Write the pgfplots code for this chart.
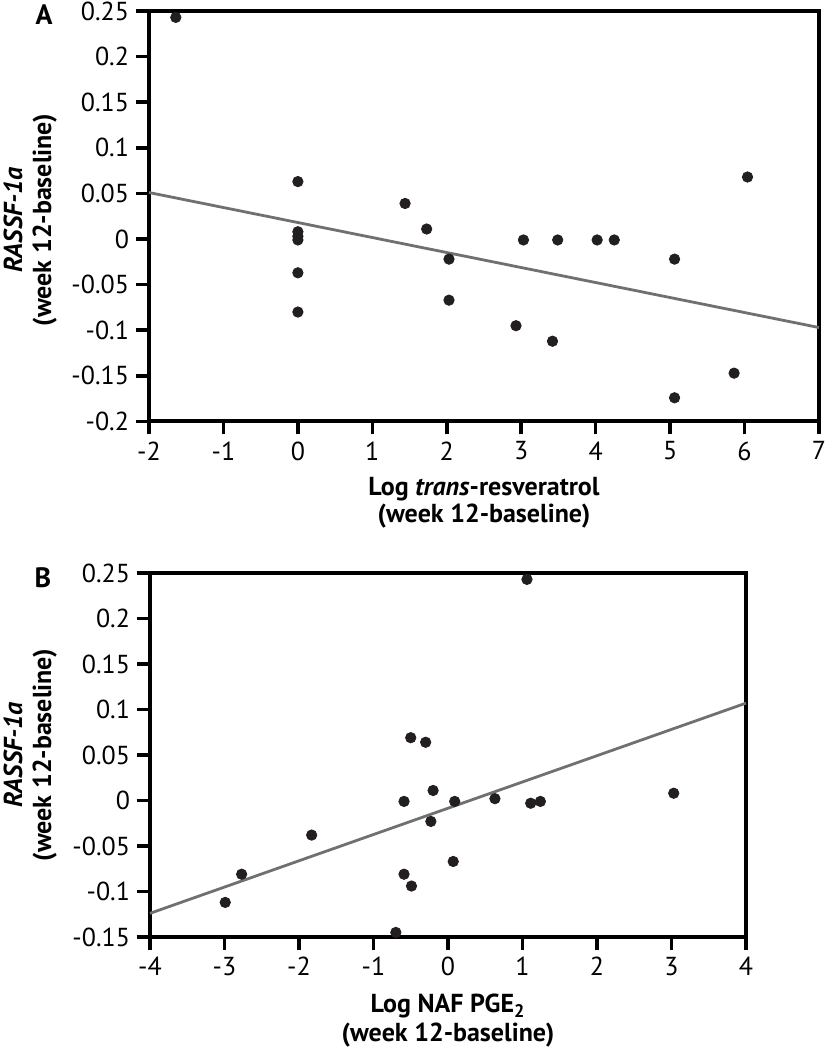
\documentclass[border=0pt]{standalone}
\usepackage{fontspec}
\setmainfont{PT Sans}
\usepackage{pgfplots}
\usepackage{pgfplotstable}
\pgfplotsset{compat=1.18}

\definecolor{dot}{RGB}{35,31,32}
\definecolor{reg}{RGB}{112,112,112}

\pgfplotstableread{
x y
-1.64 0.243
0.00 0.063
0.00 0.008
0.00 0.003
0.00 -0.001
0.00 -0.037
0.00 -0.080
1.44 0.039
1.73 0.011
2.03 -0.022
2.03 -0.067
2.93 -0.095
3.03 -0.001
3.42 -0.112
3.49 -0.001
4.02 -0.001
4.25 -0.001
5.06 -0.022
5.06 -0.174
5.86 -0.147
6.04 0.068
}\dataA

\pgfplotstableread{
x y
1.06 0.243
-0.50 0.069
-0.30 0.064
-0.20 0.011
-0.59 -0.001
0.09 -0.001
0.63 0.002
1.11 -0.003
1.24 -0.001
3.03 0.008
-0.23 -0.023
-1.83 -0.038
0.07 -0.067
-2.77 -0.081
-0.59 -0.081
-0.49 -0.094
-2.99 -0.112
-0.70 -0.145
}\dataB

\pgfplotsset{
  myax/.style={
    scale only axis, clip=false,
    axis line style={line width=2pt, black},
    tick style={line width=1.8pt, black},
    major tick length=6.5pt,
    tick align=outside,
    xtick pos=left, ytick pos=left,
    tick label style={font=\fontsize{13}{15}\selectfont, black},
  }
}

\begin{document}
\begin{tikzpicture}
\path[use as bounding box] (0,0) rectangle (413pt,525pt);

\begin{axis}[myax, at={(74.5pt,314.25pt)}, anchor=south west,
  width=335pt, height=205.25pt,
  xmin=-2, xmax=7, ymin=-0.2, ymax=0.25,
  xtick={-2,-1,0,1,2,3,4,5,6,7},
  xticklabels={-2,-1,0,1,2,3,4,5,6,7},
  ytick={-0.2,-0.15,-0.1,-0.05,0,0.05,0.1,0.15,0.2,0.25},
  yticklabels={-0.2,-0.15,-0.1,-0.05,0,0.05,0.1,0.15,0.2,0.25}]
\addplot[no marks, color=reg, line width=1.4pt] coordinates {(-2,0.051) (7,-0.097)};
\addplot[only marks, mark=*, mark size=2.6pt, color=dot] table[x=x,y=y] {\dataA};
\end{axis}

\begin{axis}[myax, at={(75pt,56.5pt)}, anchor=south west,
  width=298pt, height=182pt,
  xmin=-4, xmax=4, ymin=-0.15, ymax=0.25,
  xtick={-4,-3,-2,-1,0,1,2,3,4},
  xticklabels={-4,-3,-2,-1,0,1,2,3,4},
  ytick={-0.15,-0.1,-0.05,0,0.05,0.1,0.15,0.2,0.25},
  yticklabels={-0.15,-0.1,-0.05,0,0.05,0.1,0.15,0.2,0.25}]
\addplot[no marks, color=reg, line width=1.4pt] coordinates {(-4,-0.124) (4,0.107)};
\addplot[only marks, mark=*, mark size=2.6pt, color=dot] table[x=x,y=y] {\dataB};
\end{axis}

% panel letters
\node[font=\fontsize{14}{16}\selectfont\bfseries] at (22pt,517.5pt) {A};
\node[font=\fontsize{14}{16}\selectfont\bfseries] at (21.5pt,236pt) {B};

% x labels
\node[anchor=base, font=\fontsize{13}{15}\selectfont\bfseries] at (242pt,277pt) {Log \textit{trans}-resveratrol};
\node[anchor=base, font=\fontsize{13}{15}\selectfont\bfseries] at (242pt,263.5pt) {(week 12-baseline)};
\node[anchor=base, font=\fontsize{13}{15}\selectfont\bfseries] at (224pt,18.5pt) {Log NAF PGE\textsubscript{2}};
\node[anchor=base, font=\fontsize{13}{15}\selectfont\bfseries] at (224pt,4.5pt) {(week 12-baseline)};

% y labels
\node[rotate=90, anchor=base, font=\fontsize{13}{15}\selectfont\bfseries] at (11pt,415pt) {\textit{RASSF-1a}};
\node[rotate=90, anchor=base, font=\fontsize{13}{15}\selectfont\bfseries] at (25.5pt,415pt) {(week 12-baseline)};
\node[rotate=90, anchor=base, font=\fontsize{13}{15}\selectfont\bfseries] at (11pt,147.5pt) {\textit{RASSF-1a}};
\node[rotate=90, anchor=base, font=\fontsize{13}{15}\selectfont\bfseries] at (25.5pt,147.5pt) {(week 12-baseline)};
\end{tikzpicture}
\end{document}
